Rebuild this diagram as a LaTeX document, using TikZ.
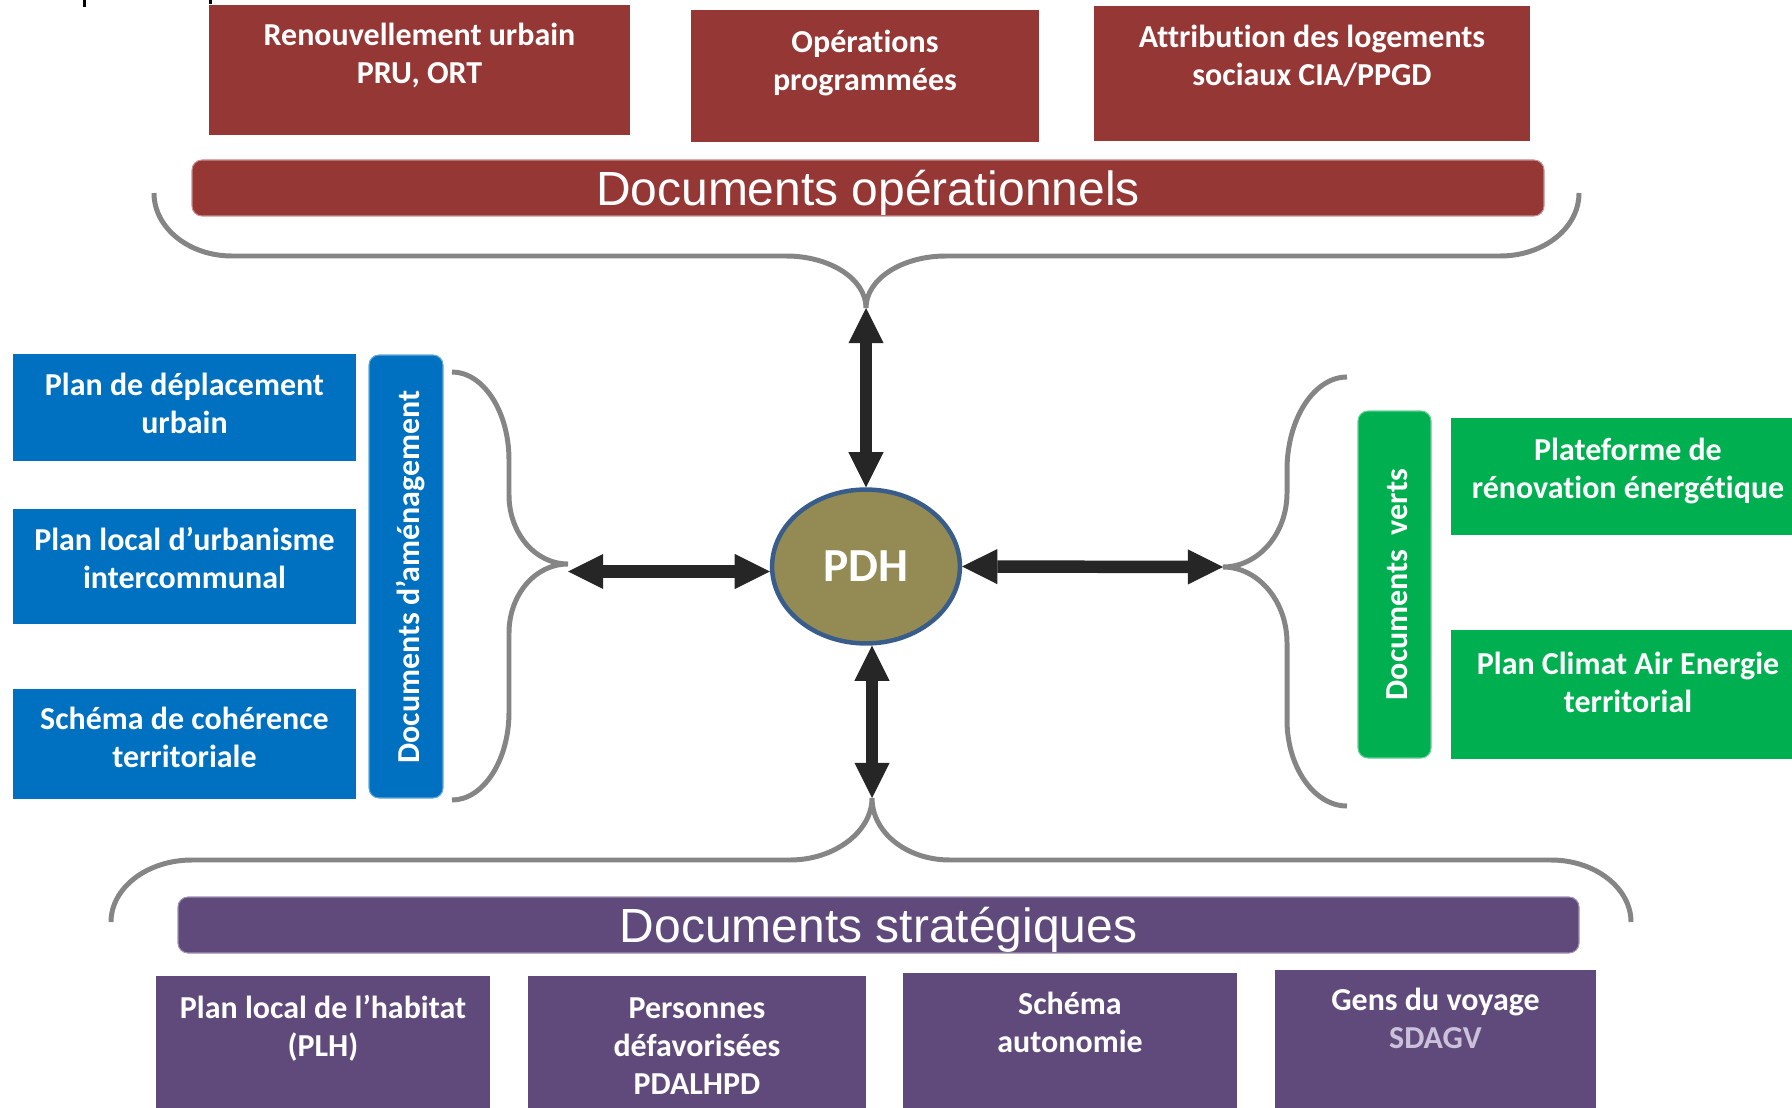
\documentclass[tikz,border=0pt]{standalone}
\usepackage{fontspec}
\setmainfont{Carlito}[Ligatures={TeX,NoCommon}]
\newfontfamily\arialf{Liberation Sans}
\usetikzlibrary{arrows.meta,shapes.geometric,fit}
\definecolor{opred}{HTML}{953735}
\definecolor{amblue}{HTML}{0070C0}
\definecolor{vgreen}{HTML}{00B050}
\definecolor{stpurple}{HTML}{604A7B}
\definecolor{bracegray}{HTML}{858585}
\definecolor{arrowblack}{HTML}{262626}
\definecolor{pdhfill}{HTML}{948A54}
\definecolor{pdhline}{HTML}{385D8A}
\definecolor{sdagvc}{HTML}{CCC1DA}
\newcommand\fstrut{\rule{0pt}{15pt}}
\begin{document}
\begin{tikzpicture}[x=0.02cm,y=-0.02cm,
  boxshape/.style={inner sep=0pt, outer sep=0pt, draw=none},
  barshape/.style={inner sep=0pt, outer sep=0pt, rounded corners=5.7pt, line width=0.6pt},
  boxtxt/.style={text=white, font=\bfseries\fontsize{18.2}{21.8}\selectfont, align=center, inner sep=0pt, anchor=north, yshift=-1.2pt},
  bigtitle/.style={text=white, font=\arialf\fontsize{27.3}{32}\selectfont, inner sep=0pt, anchor=base},
  sidetitle/.style={text=white, font=\bfseries\fontsize{18.2}{21.8}\selectfont, inner sep=0pt, rotate=90, anchor=base},
  bracepath/.style={draw=bracegray, line width=2.83pt},
  dblarrow/.style={draw=arrowblack, line width=7.1pt,
     {Triangle[length=20pt,width=20pt,line width=0pt]}-{Triangle[length=20pt,width=20pt,line width=0pt]}}
]
\useasboundingbox (0,0) rectangle (1792,1108);
\fill[white] (0,0) rectangle (1792,1108);

% cropped marks at top left
\fill[black] (83,0) rectangle (86,7);
\fill[black] (209,0) rectangle (212,4);

% ---------- top: documents operationnels ----------
\node[boxshape, fill=opred, fit={(209,5)(630,135)}] (b1) {};
\node[boxtxt] (b1t) at (419.5,16.5) {\fstrut Renouvellement urbain\\PRU, ORT};
\node[boxshape, fill=opred, fit={(691,10)(1039,142)}] (b2) {};
\node[boxtxt] (b2t) at (865,23.5) {\fstrut Opérations\\programmées};
\node[boxshape, fill=opred, fit={(1094,6)(1530,141)}] (b3) {};
\node[boxtxt] (b3t) at (1312,18.5) {\fstrut Attribution des logements\\sociaux CIA/PPGD};

\node[barshape, fill=opred, draw=opred!55!white, fit={(192,160)(1544,216)}] (opbar) {};
\node[bigtitle] (opt) at (868,206) {Documents opérationnels};

% ---------- left: documents d'amenagement ----------
\node[boxshape, fill=amblue, fit={(13,354)(356,461)}] (la) {};
\node[boxtxt] (lat) at (184.5,366.5) {\fstrut Plan de déplacement\\urbain};
\node[boxshape, fill=amblue, fit={(13,509)(356,624)}] (lb) {};
\node[boxtxt] (lbt) at (184.5,521.5) {\fstrut Plan local d’urbanisme\\intercommunal};
\node[boxshape, fill=amblue, fit={(13,689)(356,799)}] (lc) {};
\node[boxtxt] (lct) at (184.5,700.5) {\fstrut Schéma de cohérence\\territoriale};

\node[barshape, fill=amblue, draw=amblue!60!white, fit={(369,355)(443,798)}] (ambar) {};
\node[sidetitle] (amt) at (419,577) {Documents d’aménagement};

% ---------- right: documents verts ----------
\node[barshape, fill=vgreen, draw=vgreen!60!white, fit={(1358,411)(1431,758)}] (vbar) {};
\node[sidetitle] (vt) at (1407,584.5) {Documents~~verts};

\node[boxshape, fill=vgreen, fit={(1451,418)(1810,535)}] (ga) {};
\node[boxtxt] (gat) at (1628,431.5) {\fstrut Plateforme de\\rénovation énergétique};
\node[boxshape, fill=vgreen, fit={(1451,630)(1810,759)}] (gb) {};
\node[boxtxt] (gbt) at (1628,645.5) {\fstrut Plan Climat Air Energie\\territorial};

% ---------- bottom: documents strategiques ----------
\node[barshape, fill=stpurple, draw=stpurple!60!white, fit={(178,897)(1579,953)}] (stbar) {};
\node[bigtitle] (stt) at (878.5,942) {Documents stratégiques};

\node[boxshape, fill=stpurple, fit={(156,976)(490,1115)}] (p1) {};
\node[boxtxt] (p1t) at (323,989.5) {\fstrut Plan local de l’habitat\\(PLH)};
\node[boxshape, fill=stpurple, fit={(528,976)(866,1115)}] (p2) {};
\node[boxtxt] (p2t) at (697,989.5) {\fstrut Personnes\\défavorisées\\PDALHPD};
\node[boxshape, fill=stpurple, fit={(903,973)(1237,1115)}] (p3) {};
\node[boxtxt] (p3t) at (1070,985.5) {\fstrut Schéma\\autonomie};
\node[boxshape, fill=stpurple, fit={(1275,970)(1596,1115)}] (p4) {};
\node[boxtxt] (p4t) at (1435.5,981.5) {\fstrut Gens du voyage\\\textcolor{sdagvc}{SDAGV}};

% ---------- center ----------
\node[ellipse, draw=pdhline, line width=2.55pt, fill=pdhfill, inner sep=0pt,
      minimum width=106.9pt, minimum height=87.6pt, text=white,
      font=\bfseries\fontsize{27}{30}\selectfont] (pdh) at (866,566.5) {PDH};

% brace tips and arrow ends
\coordinate (ttip) at (866,308);
\coordinate (btip) at (872,798);
\coordinate (lbtip) at (568,564);
\coordinate (larr) at (568,571.5);
\coordinate (rbtip) at (1223,567);

% ---------- braces ----------
\draw[bracepath] (154,193) .. controls (154,228) and (189,256) .. (232,256) -- (786,256)
  .. controls (830,256) and (866,279) .. (ttip)
  .. controls (866,279) and (902,256) .. (946,256) -- (1500,256)
  .. controls (1544,256) and (1579,228) .. (1579,193);
\draw[bracepath] (111,922) .. controls (111,888) and (147,860) .. (192,860) -- (790,860)
  .. controls (834,860) and (872,832) .. (btip)
  .. controls (872,832) and (906,860) .. (950,860) -- (1551,860)
  .. controls (1595,860) and (1631,888) .. (1631,922);
\draw[bracepath] (452,372) .. controls (483,372) and (509,411) .. (509,460) -- (509,495)
  .. controls (509,533) and (535,564) .. (lbtip)
  .. controls (535,564) and (509,595) .. (509,633) -- (509,712)
  .. controls (509,761) and (483,800) .. (452,800);
\draw[bracepath] (1347,377) .. controls (1314,377) and (1287,419) .. (1287,470) -- (1287,493)
  .. controls (1287,534) and (1258,567) .. (rbtip)
  .. controls (1258,567) and (1287,601) .. (1287,643) -- (1287,720)
  .. controls (1287,767) and (1314,806) .. (1347,806);

% ---------- arrows ----------
\draw[dblarrow] (ttip) -- (pdh.north);
\draw[dblarrow] (pdh.south -| btip) -- (btip);
\draw[dblarrow] (larr) -- (larr -| pdh.west);
\draw[dblarrow] (pdh.east) -- (rbtip);
\end{tikzpicture}
\end{document}
